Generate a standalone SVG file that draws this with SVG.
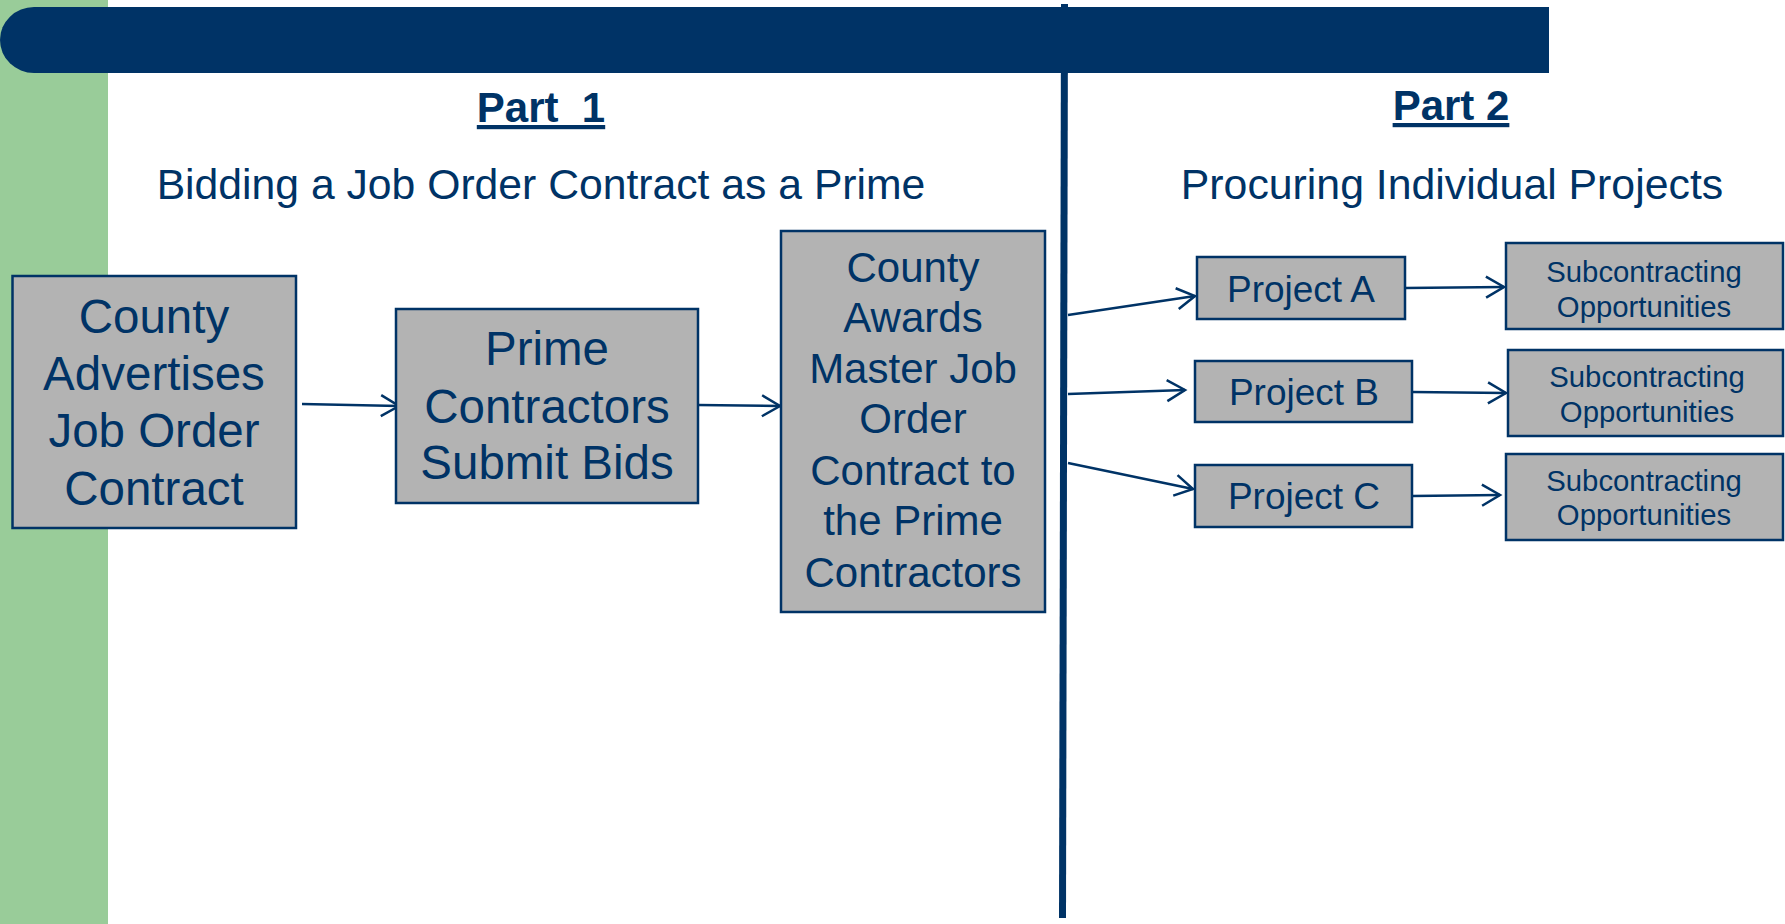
<svg xmlns="http://www.w3.org/2000/svg" width="1785" height="924" viewBox="0 0 1785 924">
<defs>
<style>
.box{fill:#B3B3B3;stroke:#003366;stroke-width:2.5}
.t{font-family:"Liberation Sans",Arial,sans-serif;fill:#003366;text-anchor:middle}
.h{font-family:"Liberation Sans",Arial,sans-serif;fill:#003366;text-anchor:middle;font-weight:bold;font-size:42px;text-decoration:underline}
.c{stroke:#003366;stroke-width:2.5;fill:none;marker-end:url(#ah)}
</style>
<marker id="ah" markerUnits="userSpaceOnUse" markerWidth="24" markerHeight="24" viewBox="0 0 24 24" refX="20" refY="12" orient="auto">
<path d="M2,1.5 L20,12 L2,22.5" fill="none" stroke="#003366" stroke-width="2.5"/>
</marker>
</defs>
<rect width="1785" height="924" fill="#FFFFFF"/>
<rect id="green-bar" x="0" y="0" width="108" height="924" fill="#99CC99"/>
<line id="divider" x1="1064.5" y1="4" x2="1062.5" y2="918" stroke="#003366" stroke-width="7"/>
<path id="banner" d="M34,7 H1549 V73 H34 A34,33 0 0 1 34,7 Z" fill="#003366"/>

<g id="headings">
<text class="h" x="541" y="122" xml:space="preserve">Part  1</text>
<text class="h" x="1451" y="120">Part 2</text>
<text class="t" x="541" y="199" font-size="42.7">Bidding a Job Order Contract as a Prime</text>
<text class="t" x="1452" y="199" font-size="42.8">Procuring Individual Projects</text>
</g>

<g id="connectors">
<line class="c" x1="302" y1="404" x2="399" y2="406"/>
<line class="c" x1="698" y1="405" x2="780" y2="406"/>
<line class="c" x1="1068" y1="315" x2="1195" y2="296"/>
<line class="c" x1="1068" y1="394" x2="1185" y2="390"/>
<line class="c" x1="1068" y1="463" x2="1193" y2="489"/>
<line class="c" x1="1405" y1="288" x2="1504" y2="287"/>
<line class="c" x1="1412" y1="392" x2="1506" y2="393"/>
<line class="c" x1="1412" y1="496" x2="1500" y2="495"/>
</g>

<g id="n-advertise">
<rect class="box" x="12.5" y="276" width="283.5" height="252"/>
<text class="t" font-size="47.5"><tspan x="154" y="333">County</tspan><tspan x="154" y="390">Advertises</tspan><tspan x="154" y="447">Job Order</tspan><tspan x="154" y="505">Contract</tspan></text>
</g>
<g id="n-bids">
<rect class="box" x="396" y="309" width="302" height="194"/>
<text class="t" font-size="47.5"><tspan x="547" y="365">Prime</tspan><tspan x="547" y="423">Contractors</tspan><tspan x="547" y="479">Submit Bids</tspan></text>
</g>
<g id="n-awards">
<rect class="box" x="781" y="231" width="264" height="381"/>
<text class="t" font-size="42"><tspan x="913" y="282">County</tspan><tspan x="913" y="332">Awards</tspan><tspan x="913" y="383">Master Job</tspan><tspan x="913" y="433">Order</tspan><tspan x="913" y="485">Contract to</tspan><tspan x="913" y="535">the Prime</tspan><tspan x="913" y="587">Contractors</tspan></text>
</g>
<g id="n-project-a">
<rect class="box" x="1197" y="257" width="208" height="62"/>
<text class="t" font-size="37" x="1301" y="302">Project A</text>
</g>
<g id="n-project-b">
<rect class="box" x="1195" y="361" width="217" height="61"/>
<text class="t" font-size="37" x="1304" y="405">Project B</text>
</g>
<g id="n-project-c">
<rect class="box" x="1195" y="465" width="217" height="62"/>
<text class="t" font-size="37" x="1304" y="509">Project C</text>
</g>
<g id="n-sub-a">
<rect class="box" x="1506" y="243" width="277" height="86"/>
<text class="t" font-size="29.3"><tspan x="1644" y="282">Subcontracting</tspan><tspan x="1644" y="317">Opportunities</tspan></text>
</g>
<g id="n-sub-b">
<rect class="box" x="1508" y="350" width="275" height="86"/>
<text class="t" font-size="29.3"><tspan x="1647" y="387">Subcontracting</tspan><tspan x="1647" y="422">Opportunities</tspan></text>
</g>
<g id="n-sub-c">
<rect class="box" x="1506" y="454" width="277" height="86"/>
<text class="t" font-size="29.3"><tspan x="1644" y="491">Subcontracting</tspan><tspan x="1644" y="525">Opportunities</tspan></text>
</g>
</svg>
